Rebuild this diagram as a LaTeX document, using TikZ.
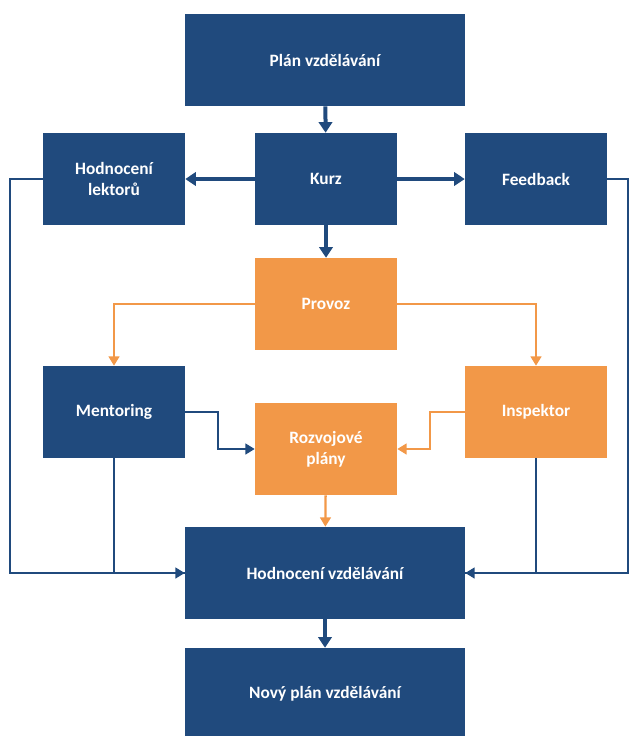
\documentclass[tikz,border=0pt]{standalone}
\usepackage{fontspec}
\setmainfont{Carlito}
\usepackage{tikz}
\usetikzlibrary{arrows.meta,positioning}
\definecolor{boxblue}{RGB}{32,74,125}
\definecolor{boxorange}{RGB}{242,152,72}

\begin{document}
\begin{tikzpicture}[x=0.75pt,y=-0.75pt,font=\fontsize{13}{16}\selectfont\bfseries,
  bluebox/.style={fill=boxblue,text=white,minimum width=106.5pt,minimum height=69pt,align=center,inner sep=0pt},
  widebox/.style={bluebox,minimum width=210pt},
  orangebox/.style={bluebox,fill=boxorange},
  thickarr/.style={draw=boxblue,line width=3pt,-{Triangle[length=8pt,width=10pt]}},
  bluearr/.style={draw=boxblue,line width=1.7pt,-{Triangle[length=7pt,width=8pt]}},
  bluelin/.style={draw=boxblue,line width=1.7pt},
  orangearr/.style={draw=boxorange,line width=1.7pt,-{Triangle[length=7pt,width=8pt]}}]
  \useasboundingbox (0,0) rectangle (629,736);
  % boxes
  \node[widebox] (plan) at (325,60) {Plán vzdělávání};
  \node[bluebox] (lektori) at (114,179) {Hodnocení\\lektorů};
  \node[bluebox] (kurz) at (326,179) {Kurz};
  \node[bluebox] (feedback) at (536,179) {Feedback};
  \node[orangebox] (provoz) at (326,304) {Provoz};
  \node[bluebox] (mentoring) at (114,412) {Mentoring};
  \node[orangebox] (rozvoj) at (326,449) {Rozvojové\\plány};
  \node[orangebox] (inspektor) at (536,412) {Inspektor};
  \node[widebox] (hodnoceni) at (325,573) {Hodnocení vzdělávání};
  \node[widebox] (novy) at (325,694) {Nový plán vzdělávání};
  % connectors
  \draw[thickarr] (plan) -- (kurz);
  \draw[thickarr] (kurz) -- (lektori);
  \draw[thickarr] (kurz) -- (feedback);
  \draw[thickarr] (kurz) -- (provoz);
  \draw[orangearr] (provoz.west) -| (mentoring.north);
  \draw[orangearr] (provoz.east) -| (inspektor.north);
  \draw[bluearr] (mentoring.east) -- ++(33,0) |- (rozvoj.west);
  \draw[orangearr] (inspektor.west) -- ++(-35,0) |- (rozvoj.east);
  \draw[orangearr] (rozvoj) -- (hodnoceni);
  \draw[bluearr] (lektori.west) -- ++(-33,0) |- (hodnoceni.west);
  \draw[bluelin] (mentoring.south) |- (hodnoceni.west);
  \draw[bluearr] (feedback.east) -- ++(21,0) |- (hodnoceni.east);
  \draw[bluelin] (inspektor.south) |- (hodnoceni.east);
  \draw[thickarr] (hodnoceni) -- (novy);
\end{tikzpicture}
\end{document}
